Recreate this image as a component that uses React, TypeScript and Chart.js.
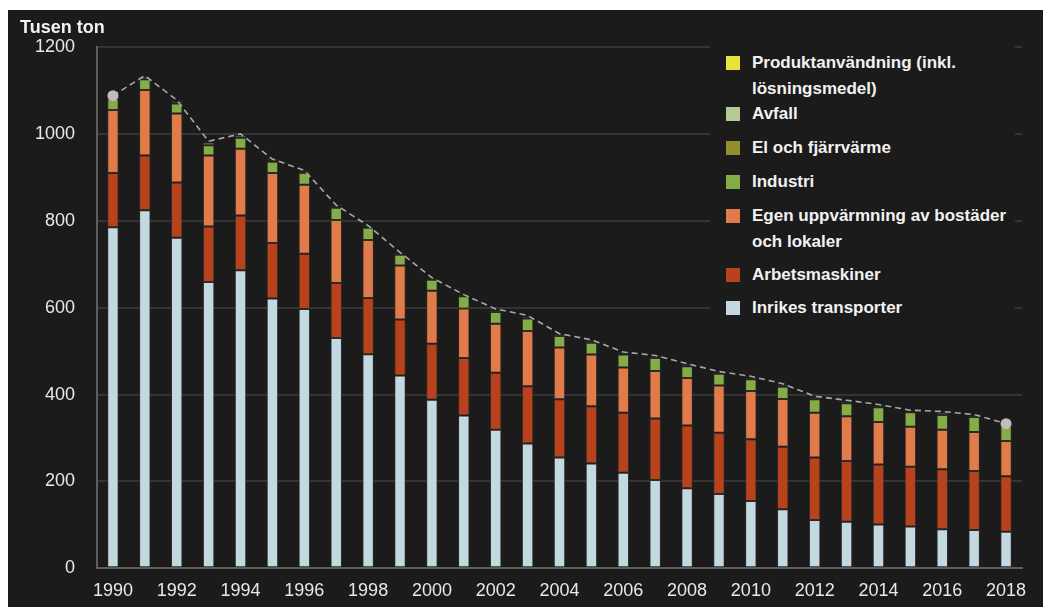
import React, { useEffect, useRef } from "react";
import { Chart, registerables } from "chart.js";

Chart.register(...registerables);

const years = ["1990","1991","1992","1993","1994","1995","1996","1997","1998","1999","2000","2001","2002","2003","2004","2005","2006","2007","2008","2009","2010","2011","2012","2013","2014","2015","2016","2017","2018"];
const xTickLabels = ["1990","","1992","","1994","","1996","","1998","","2000","","2002","","2004","","2006","","2008","","2010","","2012","","2014","","2016","","2018"];

const inrikesTransporter = [785,824,761,659,686,621,597,530,493,444,388,352,319,287,255,241,220,203,184,171,155,136,111,107,101,96,90,88,84];
const arbetsmaskiner = [125,126,127,128,126,128,127,127,129,129,129,132,131,132,134,132,138,142,145,141,142,144,144,140,138,138,138,136,128];
const egenUppvarmning = [145,151,159,163,154,161,159,145,134,124,122,114,113,127,119,119,104,109,109,109,111,110,103,103,98,92,91,90,81];
const industri = [26,25,23,24,25,26,27,28,28,25,25,28,27,29,27,27,30,30,27,27,27,28,31,30,34,33,34,34,34];
const elOchFjarrvarme = [4,5,5,6,6,3,3,3,2,2,2,1,4,4,2,4,3,3,3,2,4,4,4,4,3,2,5,3,3];
const avfall = [1,1,1,1,1,1,1,1,1,1,1,1,1,1,1,1,1,1,1,1,1,1,1,1,1,1,1,1,1];
const produktanvandning = [2,2,2,2,2,2,2,2,2,2,2,2,2,2,2,2,2,2,2,2,2,2,2,2,2,2,2,2,2];

const yTicks = [0, 200, 400, 600, 800, 1000, 1200];

const seriesNames = [
  "Inrikes transporter",
  "Arbetsmaskiner",
  "Egen uppvärmning av bostäder och lokaler",
  "Industri",
  "El och fjärrvärme",
  "Avfall",
  "Produktanvändning (inkl. lösningsmedel)",
];
const seriesColors = ["#c4d8e1", "#b8421b", "#e27b4a", "#85ad45", "#948f2e", "#b4c994", "#e6e33a"];
const seriesData = [inrikesTransporter, arbetsmaskiner, egenUppvarmning, industri, elOchFjarrvarme, avfall, produktanvandning];

const FONT = "'Liberation Sans', Arial, Helvetica, sans-serif";
const BG = "#1b1b1b";

// legend: series index in display order and the top offset of each entry (px)
const legendOrder = [6, 5, 4, 3, 2, 1, 0];
const legendTops = [8, 59, 93, 127, 161, 220, 253];

export default function App() {
  const ref = useRef<HTMLCanvasElement | null>(null);

  useEffect(() => {
    if (!ref.current) return;
    const totals = years.map((_, i) => seriesData.reduce((s, arr) => s + arr[i], 0));
    const pointRadii = totals.map((_, i) => (i === 0 || i === totals.length - 1 ? 5.5 : 0));

    const barSets = seriesData.map((d, k) => ({
      type: "bar" as const,
      label: seriesNames[k],
      data: d,
      backgroundColor: seriesColors[k],
      borderColor: "rgba(45,45,45,0.9)",
      borderWidth: 1,
      borderSkipped: false,
      barPercentage: 0.36,
      categoryPercentage: 1,
      order: 1,
    }));

    const chart = new Chart(ref.current, {
      type: "bar",
      data: {
        labels: years,
        datasets: [
          ...barSets,
          {
            type: "line" as const,
            label: "Totalt",
            data: totals,
            stack: "total",
            borderColor: "#a8a8a8",
            borderWidth: 1.6,
            borderDash: [6, 4],
            pointRadius: pointRadii,
            pointBackgroundColor: "#bdbdbd",
            pointBorderWidth: 0,
            pointHoverRadius: 0,
            tension: 0,
            fill: false,
            order: -1,
          } as any,
        ],
      },
      options: {
        responsive: false,
        animation: false,
        layout: { padding: { left: 0, right: 21, top: 37, bottom: 0 } },
        plugins: {
          legend: { display: false },
          tooltip: { enabled: false },
          title: { display: false },
        },
        scales: {
          x: {
            stacked: true,
            grid: { display: false, drawTicks: false },
            border: { display: true, color: "#5e5e5e", width: 2 },
            ticks: {
              color: "#e8e8e8",
              font: { family: FONT, size: 18 },
              padding: 12,
              autoSkip: false,
              maxRotation: 0,
              callback: (_v: any, i: number) => xTickLabels[i],
            },
            afterFit: (s: any) => { s.height = 38.7; },
          },
          y: {
            stacked: true,
            min: yTicks[0],
            max: yTicks[yTicks.length - 1],
            afterBuildTicks: (s: any) => { s.ticks = yTicks.map((v) => ({ value: v })); },
            grid: { color: "#343434", lineWidth: 2, drawTicks: false },
            border: { display: true, color: "#5e5e5e", width: 2 },
            ticks: {
              color: "#e8e8e8",
              font: { family: FONT, size: 18 },
              padding: 22,
              callback: (v: any) => String(v),
            },
            afterFit: (s: any) => { s.width = 89; },
          },
        },
      },
    });
    return () => chart.destroy();
  }, []);

  return (
    <div style={{ position: "absolute", left: 8, top: 10, width: 1035, height: 597, background: BG, fontFamily: FONT }}>
      <canvas ref={ref} width={1035} height={597} style={{ display: "block" }} />
      <div style={{ position: "absolute", left: 12, top: 7, fontSize: 18, lineHeight: "20px", fontWeight: 700, color: "#f2f2f2" }}>
        Tusen ton
      </div>
      <div style={{ position: "absolute", left: 702, top: 32, width: 305, height: 300, background: BG }}>
        {legendOrder.map((k, j) => (
          <div key={k} style={{ position: "absolute", left: 16, top: legendTops[j], display: "flex", alignItems: "flex-start" }}>
            <div style={{ width: 14, height: 14, marginTop: 6, background: seriesColors[k], flex: "0 0 14px" }} />
            <div style={{ marginLeft: 12, width: 262, fontSize: 17, lineHeight: "25.5px", fontWeight: 700, color: "#f2f2f2" }}>
              {seriesNames[k]}
            </div>
          </div>
        ))}
      </div>
    </div>
  );
}
